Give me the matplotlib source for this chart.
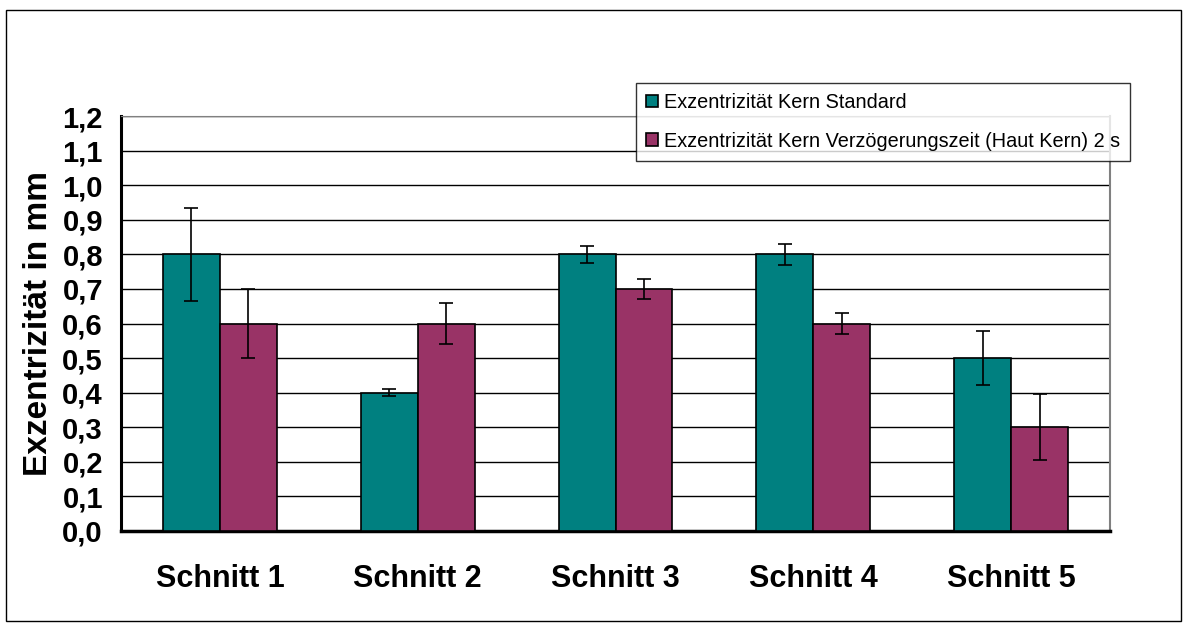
import numpy as np
import matplotlib.pyplot as plt
from matplotlib.patches import Rectangle
from matplotlib.ticker import FuncFormatter

categories = ["Schnitt 1", "Schnitt 2", "Schnitt 3", "Schnitt 4", "Schnitt 5"]
standard = [0.8, 0.4, 0.8, 0.8, 0.5]
standard_err = [0.135, 0.01, 0.025, 0.03, 0.078]
delay = [0.6, 0.6, 0.7, 0.6, 0.3]
delay_err = [0.10, 0.06, 0.03, 0.03, 0.096]
labels = ["Exzentrizität Kern Standard",
          "Exzentrizität Kern Verzögerungszeit (Haut Kern) 2 s"]

plt.rcParams['font.family'] = ['Liberation Sans', 'DejaVu Sans']

fig = plt.figure(figsize=(11.9, 6.32), dpi=100)
fig.patches.append(Rectangle((6/1190, 11/632), 1175/1190, 611/632, transform=fig.transFigure,
                             fill=False, edgecolor='black', linewidth=1.0))
ax = fig.add_axes([121/1190, 101/632, 989/1190, 415/632])

x = np.arange(len(categories))
w = 0.288
ekw = dict(elinewidth=1.2, capthick=1.2, ecolor='black', capsize=4.7)
ax.bar(x - w/2, standard, w, yerr=standard_err, color='#008080', edgecolor='black',
       linewidth=1.2, label=labels[0], error_kw=ekw, zorder=3)
ax.bar(x + w/2, delay, w, yerr=delay_err, color='#993366', edgecolor='black',
       linewidth=1.2, label=labels[1], error_kw=ekw, zorder=3)

ax.set_xlim(-0.5, 4.5)
ax.set_ylim(0, 1.2)
ax.set_yticks(np.arange(0, 1.21, 0.1))
ax.yaxis.set_major_formatter(FuncFormatter(lambda v, p: ("%.1f" % v).replace('.', ',')))
ax.yaxis.grid(True, color='black', linewidth=1.0, zorder=0)
ax.set_axisbelow(True)
ax.set_xticks(x)
ax.set_xticklabels(categories, fontsize=22, fontweight='bold')
for t in ax.get_yticklabels():
    t.set_fontsize(21)
    t.set_fontweight('bold')
ax.tick_params(axis='both', length=0)
ax.tick_params(axis='x', pad=24)
ax.tick_params(axis='y', pad=13)
ax.set_ylabel("Exzentrizität in mm", fontsize=24, fontweight='bold', labelpad=6)

ax.spines['left'].set_linewidth(2.2)
ax.spines['bottom'].set_linewidth(2.5)
ax.spines['top'].set_color('#808080')
ax.spines['right'].set_color('#808080')
ax.spines['right'].set_linewidth(1.5)

leg = fig.legend(loc='upper left', bbox_to_anchor=(636/1190, 1 - 83/632), fontsize=14.3,
                 frameon=True, fancybox=False, handlelength=0.6, handleheight=0.6,
                 handletextpad=0.3, borderpad=0.5, labelspacing=1.0, borderaxespad=0)
leg.get_frame().set_edgecolor('black')
leg.get_frame().set_linewidth(1.0)
leg.set_zorder(10)

fig.savefig("out.png", dpi=100)
